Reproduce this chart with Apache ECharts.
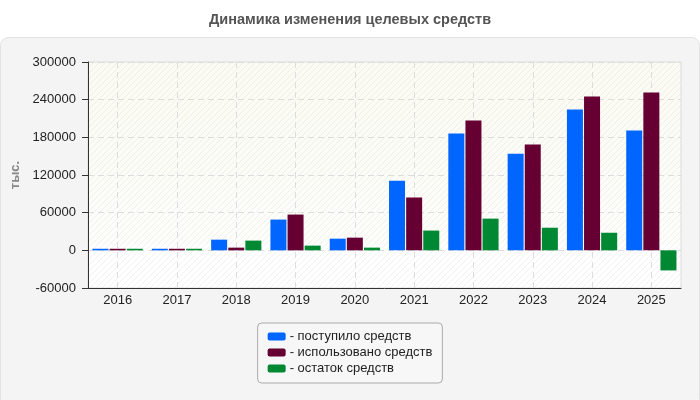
<!DOCTYPE html>
<html>
<head>
<meta charset="utf-8">
<script src="https://cdn.jsdelivr.net/npm/echarts@6/dist/echarts.min.js"></script>
<style>
  html, body { margin: 0; padding: 0; background: #fff; }
  #chart { width: 700px; height: 400px; }
</style>
</head>
<body>
<div id="chart"></div>
<script>
// данные
const years = ["2016", "2017", "2018", "2019", "2020", "2021", "2022", "2023", "2024", "2025"];
const received = [2500, 2500, 17000, 49000, 18600, 111000, 186000, 154000, 224500, 191000];
const used = [2500, 2500, 4300, 57000, 20200, 84000, 207000, 168500, 245000, 251500];
const balance = [2500, 2500, 15500, 7500, 4300, 31500, 50500, 36000, 28000, -32000];
const seriesNames = ["поступило средств", "использовано средств", "остаток средств"];
const seriesColors = ["#0066ff", "#660033", "#008833"];

// штриховка фона
function hatchPattern() {
    const c = document.createElement("canvas");
    c.width = 6; c.height = 6;
    const ctx = c.getContext("2d");
    ctx.strokeStyle = "rgba(0,0,0,0.05)";
    ctx.lineWidth = 1;
    ctx.beginPath();
    ctx.moveTo(0, 6); ctx.lineTo(6, 0);
    ctx.moveTo(-1, 1); ctx.lineTo(1, -1);
    ctx.moveTo(5, 7); ctx.lineTo(7, 5);
    ctx.stroke();
    return { image: c, repeat: "repeat" };
}

const chart = echarts.init(document.getElementById("chart"));
const gridBox = { left: 88, right: 19, top: 62, bottom: 112 };

chart.setOption({
    animation: false,
    textStyle: { fontFamily: "Liberation Sans, Arial, sans-serif" },
    title: {
        text: "Динамика изменения целевых средств",
        left: "center", top: 12, padding: 0,
        textStyle: { fontSize: 14.5, fontWeight: "bold", color: "#555" }
    },
    graphic: [
        {
            type: "rect", z: -10, silent: true,
            shape: { x: 0.5, y: 37.5, width: 699, height: 370, r: 8 },
            style: { fill: "#f4f4f4", stroke: "#e2e2e2", lineWidth: 1 }
        },
        {
            type: "rect", z: -5, silent: true,
            shape: { x: 88, y: 62, width: 593, height: 226 },
            style: {
                fill: new echarts.graphic.LinearGradient(0, 0, 0, 1, [
                    { offset: 0, color: "#fbfbf3" },
                    { offset: 0.8, color: "#fdfdfa" },
                    { offset: 0.81, color: "#ffffff" },
                    { offset: 1, color: "#ffffff" }
                ])
            }
        }
    ],
    legend: {
        orient: "vertical",
        left: "center", top: 323,
        padding: [7, 10, 8, 10],
        itemGap: 3,
        itemWidth: 18, itemHeight: 8,
        icon: "roundRect",
        backgroundColor: "#f7f7f7",
        borderColor: "#aaa", borderWidth: 1, borderRadius: 4,
        formatter: name => "- " + name,
        textStyle: { fontSize: 13, color: "#222", lineHeight: 13, padding: [0, 0, 0, -1] }
    },
    grid: Object.assign({
        show: true,
        backgroundColor: hatchPattern(),
        borderColor: "#dcdcdc", borderWidth: 1
    }, gridBox),
    xAxis: {
        type: "category",
        data: years,
        axisLine: { onZero: false, lineStyle: { color: "#333", width: 1 } },
        axisTick: { alignWithLabel: true, length: 5, lineStyle: { color: "#333" } },
        axisLabel: { fontSize: 13, color: "#222", margin: 6 },
        splitLine: { show: true, alignWithLabel: true, lineStyle: { color: "#ddd", type: [6, 4] } }
    },
    yAxis: {
        type: "value",
        min: -60000, max: 300000, interval: 60000,
        name: "тыс.",
        nameLocation: "middle",
        nameGap: 53,
        nameRotate: 90,
        nameTextStyle: { fontSize: 13, fontWeight: "bold", color: "#888" },
        axisLine: { show: true, lineStyle: { color: "#333", width: 1 } },
        axisTick: { show: true, length: 6, lineStyle: { color: "#333" } },
        axisLabel: { fontSize: 13, color: "#222", margin: 12, formatter: v => String(v) },
        splitLine: { show: true, lineStyle: { color: "#ddd", type: [6, 4] } }
    },
    series: [received, used, balance].map((vals, i) => ({
        name: seriesNames[i],
        type: "bar",
        data: vals,
        barWidth: 16,
        barGap: "7%",
        itemStyle: { color: seriesColors[i] }
    }))
});
</script>
</body>
</html>
